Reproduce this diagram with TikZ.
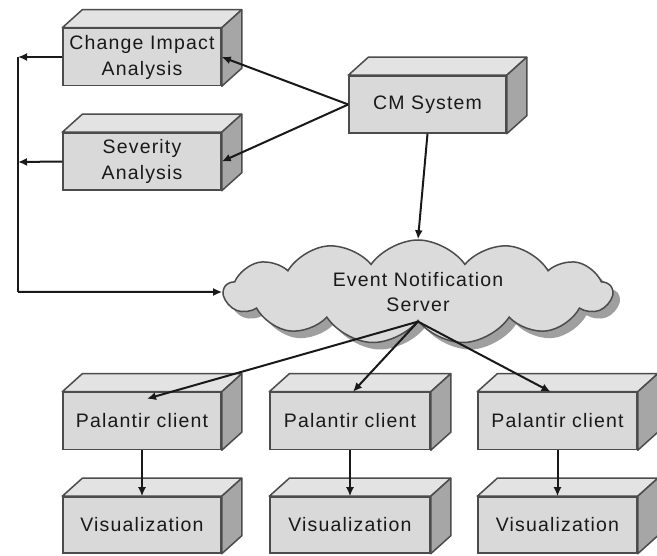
\documentclass[tikz,border=0pt]{standalone}
\usepackage{fontspec}
\setmainfont{Liberation Sans}[LetterSpace=6]
\usetikzlibrary{shapes.symbols,shadows,arrows.meta,calc}
\tikzset{
  x=1pt, y=-1pt,
  lbl/.style={font=\fontsize{19.5}{26}\selectfont, text=black!90},
  front/.style={lbl, draw=black!70, line width=1.5pt, fill=gray!30,
    minimum width=158pt, minimum height=57pt, inner sep=0pt, align=center},
  topf/.style={draw=black!70, line width=1.5pt, fill=gray!22, line join=round},
  sidef/.style={draw=black!70, line width=1.5pt, fill=gray!70, line join=round},
  arr/.style={draw=black!90, line width=2pt, -{Latex[length=9pt,width=8pt]}},
  conn/.style={draw=black!90, line width=2pt},
}
\newcommand\cubefaces[1]{%
  \draw[topf] (#1.north west) -- ++(20,-18) -- ($(#1.north east)+(20,-18)$) -- (#1.north east) -- cycle;
  \draw[sidef] (#1.north east) -- ++(20,-18) -- ($(#1.south east)+(20,-18)$) -- (#1.south east) -- cycle;
}
\begin{document}
\begin{tikzpicture}
\fill[white] (0,0) rectangle (657,556);
\useasboundingbox (0,0) rectangle (657,556);

% boxes
\node[front] (cia) at (142,57) {Change Impact\\Analysis};
\node[front] (sa) at (142,161.5) {Severity\\Analysis};
\node[front, minimum width=157pt] (cm) at (427.5,104.5) {CM System};
\node[front] (pc1) at (142,421) {Palantir client};
\node[front, minimum width=160pt] (pc2) at (350,421) {Palantir client};
\node[front, minimum width=159pt] (pc3) at (557.5,421) {Palantir client};
\node[front, minimum height=56pt] (v1) at (142,525) {Visualization};
\node[front, minimum width=160pt, minimum height=56pt] (v2) at (350,525) {Visualization};
\node[front, minimum width=159pt, minimum height=56pt] (v3) at (557.5,525) {Visualization};
\foreach \n in {cia,sa,cm,pc1,pc2,pc3,v1,v2,v3}{\cubefaces{\n}}

% cloud
\node[cloud, cloud puffs=13, cloud puff arc=110, aspect=3.7,
  draw=black!70, line width=1.5pt, fill=gray!28,
  minimum width=388pt, minimum height=104pt, inner sep=0pt,
  drop shadow={shadow xshift=7pt, shadow yshift=-7pt, fill=gray!75, opacity=1},
  align=center, lbl, font=\fontsize{19.5}{25}\selectfont] (ens) at (418,292) {Event Notification\\Server};

% left bus
\coordinate (l1) at (18,57);
\coordinate (l2) at (18,162);
\coordinate (l3) at (18,292);
\draw[arr] (cia.west) -- (l1);
\draw[arr] (sa.west) -- (l2);
\draw[conn] (l1) -- (l3);
\draw[arr] (l3) -- (ens.west);

% CM System connectors
\draw[arr] (cm.west) -- (cia.east);
\draw[arr] (cm.west) -- (sa.east);
\draw[arr] (cm.south) -- (ens.north);

% cloud to clients
\draw[arr] (ens.south) -- ([xshift=5pt,yshift=-7pt]pc1.north);
\draw[arr] (ens.south) -- ([xshift=3pt]pc2.north);
\draw[arr] (ens.south) -- ([xshift=-7pt]pc3.north);

% clients to visualizations
\draw[arr] (pc1.south) -- (v1.north);
\draw[arr] (pc2.south) -- (v2.north);
\draw[arr] (pc3.south) -- (v3.north);
\end{tikzpicture}
\end{document}
